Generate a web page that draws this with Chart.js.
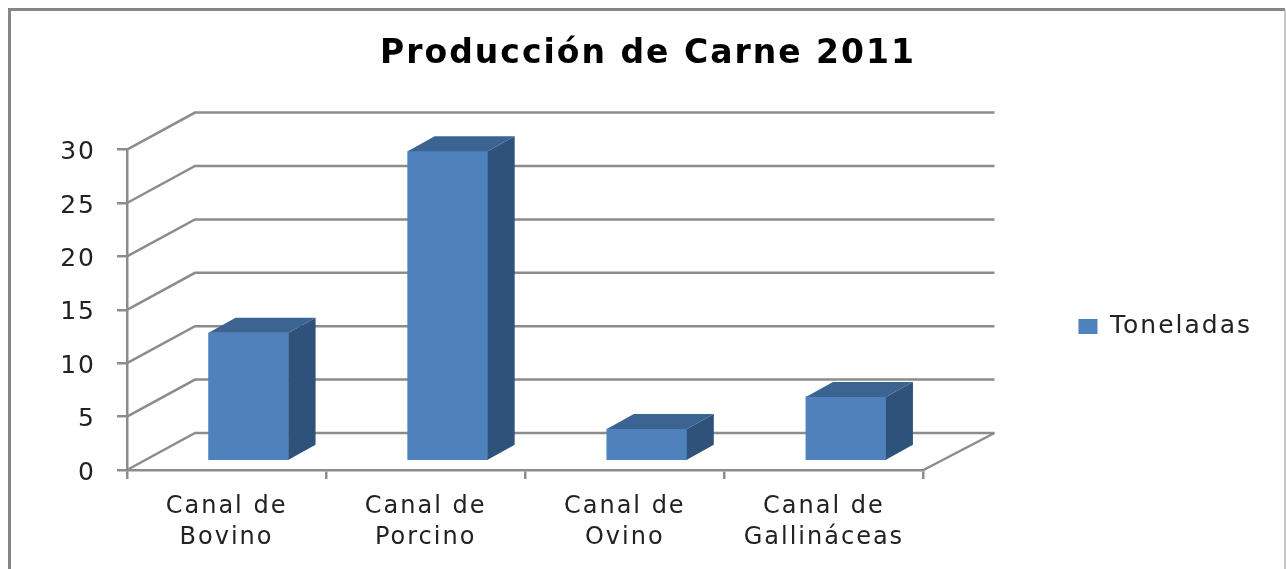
<!DOCTYPE html>
<html><head><meta charset="utf-8">
<style>html,body{margin:0;padding:0;background:#fff}#w{width:1286px;height:569px;position:relative;overflow:hidden}#c{filter:blur(.5px)}</style>
<script src="https://cdn.jsdelivr.net/npm/chart.js@4"></script></head>
<body><div id="w"><canvas id="c" width="1286" height="569"></canvas></div>
<script>
const chartTitle = 'Producción de Carne 2011';
const seriesName = 'Toneladas';
const categories = [['Canal de','Bovino'],['Canal de','Porcino'],['Canal de','Ovino'],['Canal de','Gallináceas']];
const toneladas = [12, 29, 3, 6];
const yTicks = [0,5,10,15,20,25,30];

const LINE = '#8c8c8c', FRONT = '#4f81bd', SIDE = '#2f527b', TOP = '#3b6493';
const WALL_DX = 68, WALL_DY = 37;      // depth of the back wall
const BAR_DX = 22, BAR_DY = 9;         // bars stand inside the floor
const DEPTH_X = 27, DEPTH_Y = 15;      // bar depth

const frame = {
  id:'frame',
  beforeUpdate(chart){ chart.ctx.letterSpacing = '2px'; },
  afterInit(chart){
    const lg = chart.legend, d = lg.draw;
    lg.draw = function(){ const c = chart.ctx; c.save(); c.translate(-14, 35); d.apply(this, arguments); c.restore(); };
  },
  beforeDraw(chart){
    const c = chart.ctx, a = chart.chartArea, y = chart.scales.y;
    c.save();
    c.strokeStyle = '#868686'; c.lineWidth = 3;
    c.beginPath(); c.moveTo(9.5,640); c.lineTo(9.5,9.5); c.lineTo(1285,9.5); c.stroke();
    c.lineWidth = 1.5; c.strokeStyle='#b5b5b5';
    c.beginPath(); c.moveTo(1285,9.5); c.lineTo(1285,569); c.stroke();
    c.strokeStyle = LINE; c.lineWidth = 2.5;
    yTicks.forEach(v=>{
      const p = y.getPixelForValue(v);
      c.beginPath(); c.moveTo(a.left,p); c.lineTo(a.left+WALL_DX,p-WALL_DY); c.lineTo(a.right+WALL_DX+3,p-WALL_DY); c.stroke();
    });
    const p0 = y.getPixelForValue(0);
    c.beginPath(); c.moveTo(a.right,p0); c.lineTo(a.right+WALL_DX+3,p0-WALL_DY); c.stroke();
    c.restore();
  },
  beforeDatasetsDraw(chart){ chart.ctx.save(); chart.ctx.translate(BAR_DX,-BAR_DY); },
  afterDatasetsDraw(chart){
    const c = chart.ctx;
    chart.getDatasetMeta(0).data.forEach(b=>{
      const l=b.x-b.width/2, r=b.x+b.width/2, t=b.y, bt=b.base;
      c.fillStyle=SIDE; c.beginPath(); c.moveTo(r,t); c.lineTo(r+DEPTH_X,t-DEPTH_Y); c.lineTo(r+DEPTH_X,bt-DEPTH_Y); c.lineTo(r,bt); c.closePath(); c.fill();
      c.fillStyle=TOP; c.beginPath(); c.moveTo(l,t); c.lineTo(l+DEPTH_X,t-DEPTH_Y); c.lineTo(r+DEPTH_X,t-DEPTH_Y); c.lineTo(r,t); c.closePath(); c.fill();
    });
    c.restore();
  }
};

new Chart(document.getElementById('c'),{
  type:'bar',
  data:{labels:categories,datasets:[{label:seriesName,data:toneladas,backgroundColor:FRONT,borderWidth:0,barThickness:80}]},
  plugins:[frame],
  options:{
    responsive:false,animation:false,
    layout:{padding:{left:20,right:10,top:14,bottom:0}},
    plugins:{
      tooltip:{enabled:false},
      title:{display:true,text:chartTitle,color:'#000',font:{family:'DejaVu Sans',size:33,weight:'bold'},padding:{top:21,bottom:75}},
      legend:{position:'right',labels:{boxWidth:19,boxHeight:15,padding:12,color:'#222',font:{family:'DejaVu Sans',size:25}}}
    },
    scales:{
      x:{
        afterFit(s){s.height=99;},
        border:{color:LINE,width:2.5},
        grid:{drawOnChartArea:false,color:LINE,lineWidth:2.5,tickLength:9,offset:true},
        ticks:{color:'#222',font:{family:'DejaVu Sans',size:24,lineHeight:1.3},padding:12,maxRotation:0}
      },
      y:{
        min:0,max:30,
        afterFit(s){s.width=107;},
        border:{color:LINE,width:2.5},
        grid:{drawOnChartArea:false,color:LINE,lineWidth:2.5,tickLength:10},
        ticks:{stepSize:5,color:'#222',font:{family:'DejaVu Sans',size:25},padding:21,labelOffset:3}
      },
      y2:{
        position:'right',
        afterFit(s){s.width=157;},
        border:{display:false},grid:{display:false},ticks:{display:false}
      }
    }
  }
});
</script></body></html>
